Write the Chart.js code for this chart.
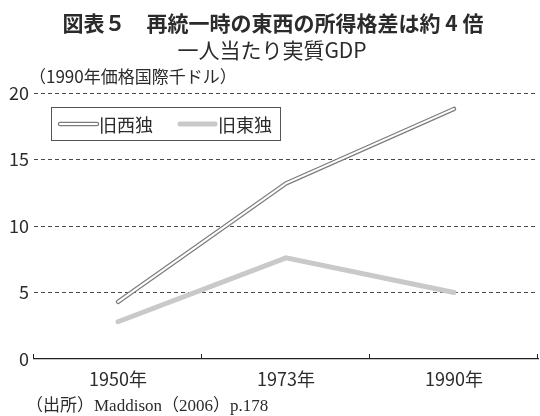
<!DOCTYPE html>
<html>
<head>
<meta charset="utf-8">
<script src="https://cdn.jsdelivr.net/npm/chart.js@4"></script>
<style>
  html, body { margin: 0; padding: 0; background: #fff; }
  canvas { display: block; }
</style>
</head>
<body>
<canvas id="myChart" width="540" height="416"></canvas>
<script>
// data (thousand 1990 international dollars)
var years = ["1950年", "1973年", "1990年"];
var westGdp = [4.3, 13.2, 18.8];
var eastGdp = [2.8, 7.6, 5.0];
var seriesNames = ["旧西独", "旧東独"];
var yTicks = [0, 5, 10, 15, 20];

var titleText = "図表５　再統一時の東西の所得格差は約 4 倍";
var subtitleText = "一人当たり実質GDP";
var unitText = "（1990年価格国際千ドル）";
var sourceText = "（出所）Maddison（2006）p.178";

var jp = "'Noto Sans CJK JP', 'Noto Sans', sans-serif";
var textColor = "#2b2b2b";

// titles, unit, legend box, inward ticks and source line
var extras = {
    id: "extras",
    afterDraw: function(chart) {
        var ctx = chart.ctx;
        var xs = chart.scales.x;
        ctx.save();
        ctx.fillStyle = textColor;
        ctx.textBaseline = "middle";
        ctx.textAlign = "center";
        ctx.font = "bold 21px " + jp;
        ctx.fillText(titleText, 273, 23);
        ctx.font = "21px " + jp;
        ctx.fillText(subtitleText, 272, 50);
        ctx.textAlign = "left";
        ctx.font = "17px " + jp;
        ctx.fillText(unitText, 29, 77);
        ctx.font = "17px 'Liberation Serif', " + jp;
        ctx.fillText(sourceText, 26, 407);

        // small upward ticks at category boundaries
        var n = chart.data.labels.length;
        var step = (xs.right - xs.left) / n;
        ctx.strokeStyle = "#222";
        ctx.lineWidth = 1;
        for (var i = 0; i <= n; i++) {
            var x = Math.round(xs.left + i * step) - 0.5;
            ctx.beginPath();
            ctx.moveTo(x, xs.top);
            ctx.lineTo(x, xs.top - 5);
            ctx.stroke();
        }

        // legend box
        ctx.fillStyle = "#fff";
        ctx.fillRect(51, 107, 230, 34);
        ctx.strokeStyle = "#555";
        ctx.lineWidth = 1;
        ctx.strokeRect(51.5, 107.5, 229, 33);
        ctx.lineCap = "round";
        var ly = 124;
        ctx.strokeStyle = "#7d7d7d";
        ctx.lineWidth = 4.5;
        ctx.beginPath(); ctx.moveTo(60, ly); ctx.lineTo(97, ly); ctx.stroke();
        ctx.strokeStyle = "#fff";
        ctx.lineWidth = 2;
        ctx.beginPath(); ctx.moveTo(60, ly); ctx.lineTo(97, ly); ctx.stroke();
        ctx.strokeStyle = "#c9c9c9";
        ctx.lineWidth = 5;
        ctx.beginPath(); ctx.moveTo(180, ly); ctx.lineTo(215, ly); ctx.stroke();
        ctx.fillStyle = textColor;
        ctx.font = "18px " + jp;
        ctx.fillText(seriesNames[0], 99, ly + 1);
        ctx.fillText(seriesNames[1], 218, ly + 1);
        ctx.restore();
    }
};

var ctx = document.getElementById("myChart");
// dataset 0 is painted last, so the white core of the west line comes first
var chart = new Chart(ctx, {
    type: "line",
    data: {
        labels: years,
        datasets: [{
            data: westGdp,
            label: seriesNames[0] + "_inner",
            borderColor: "#ffffff",
            borderWidth: 2,
            borderCapStyle: "round",
            pointRadius: 0,
            fill: false,
            tension: 0
        }, {
            data: westGdp,
            label: seriesNames[0],
            borderColor: "#7d7d7d",
            borderWidth: 4.5,
            borderCapStyle: "round",
            pointRadius: 0,
            fill: false,
            tension: 0
        }, {
            data: eastGdp,
            label: seriesNames[1],
            borderColor: "#c9c9c9",
            borderWidth: 5,
            borderCapStyle: "round",
            pointRadius: 0,
            fill: false,
            tension: 0
        }]
    },
    options: {
        responsive: false,
        animation: false,
        devicePixelRatio: 1,
        layout: { padding: { top: 93, right: 2, left: 0, bottom: 0 } },
        plugins: {
            legend: { display: false },
            title: { display: false },
            tooltip: { enabled: false }
        },
        scales: {
            x: {
                offset: true,
                grid: { display: true, drawOnChartArea: false, drawTicks: false, offset: true },
                border: { display: true, color: "#222", width: 1.2 },
                ticks: { color: textColor, font: { family: jp, size: 18 }, padding: 9, maxRotation: 0 },
                afterFit: function(scale) { scale.height = 57; }
            },
            y: {
                min: yTicks[0],
                max: yTicks[yTicks.length - 1],
                afterBuildTicks: function(scale) {
                    scale.ticks = yTicks.map(function(v) { return { value: v }; });
                },
                grid: {
                    color: function(c) { return c.tick && c.tick.value === 0 ? "rgba(0,0,0,0)" : "#4a4a4a"; },
                    lineWidth: 1,
                    drawTicks: false
                },
                border: { display: false, dash: [4, 3] },
                ticks: { color: textColor, font: { family: jp, size: 18 }, padding: 5 },
                afterFit: function(scale) { scale.width = 34; }
            }
        }
    },
    plugins: [extras]
});
</script>
</body>
</html>
